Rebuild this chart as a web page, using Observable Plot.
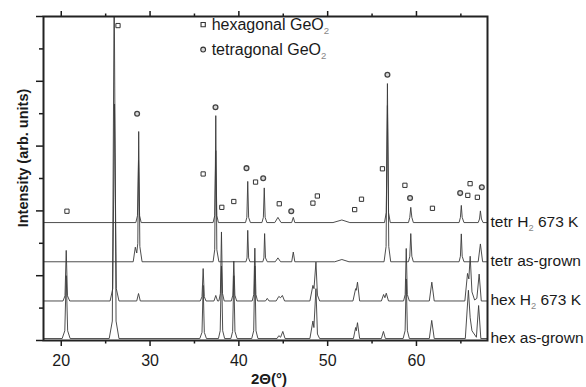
<!DOCTYPE html>
<html><head><meta charset="utf-8">
<script src="https://cdn.jsdelivr.net/npm/d3@7"></script>
<script src="https://cdn.jsdelivr.net/npm/@observablehq/plot@0.6"></script>
<style>
body{margin:0;background:#fff;}
#chart{width:586px;height:387px;overflow:hidden;}
</style>
</head><body><div id="chart"></div>
<script>
// ---- data: [2theta (deg), intensity (arb., stacked offset)] ----
const hexAsGrown = [
  [18,0.06],
  [20.1,0.06],[20.4,0.3],[20.56,2.0],[20.72,0.3],[21.0,0.06],
  [25.4,0.06],[25.75,0.6],[25.96,11],[26.17,0.6],[26.5,0.06],
  [35.6,0.06],[35.85,0.25],[35.98,1.7],[36.11,0.25],[36.35,0.06],
  [37.7,0.06],[37.9,0.3],[38.04,2.3],[38.18,0.3],[38.4,0.06],
  [39.1,0.06],[39.3,0.28],[39.43,2.0],[39.56,0.28],[39.8,0.06],
  [41.45,0.06],[41.67,0.3],[41.8,2.3],[41.93,0.3],[42.15,0.06],
  [44.3,0.06],[44.5,0.15],[44.7,0.1],[44.95,0.28],[45.2,0.06],
  [48.0,0.06],[48.34,0.6],[48.45,0.4],[48.68,1.6],[48.85,0.2],[49.1,0.06],
  [52.9,0.06],[53.15,0.4],[53.22,0.3],[53.36,0.55],[53.6,0.06],
  [56.05,0.06],[56.28,0.28],[56.5,0.06],
  [58.5,0.06],[58.72,0.3],[58.85,1.9],[58.98,0.3],[59.2,0.06],
  [61.45,0.06],[61.72,0.62],[62.0,0.06],
  [65.5,0.06],[65.85,1.55],[66.05,0.7],[66.25,0.3],[66.75,0.1],[67.0,1.08],[67.25,0.06],
  [68,0.06]
];
const hexH2 = [
  [18,1.22],
  [20.2,1.22],[20.42,1.38],[20.56,2.78],[20.7,1.38],[20.95,1.22],
  [25.5,1.22],[25.8,1.6],[26.0,7.3],[26.2,1.6],[26.5,1.22],
  [28.5,1.22],[28.7,1.45],[28.9,1.22],
  [35.65,1.22],[35.85,1.35],[35.98,2.22],[36.11,1.35],[36.3,1.22],
  [37.2,1.22],[37.4,1.39],[37.6,1.22],
  [37.75,1.22],[37.92,1.45],[38.04,3.35],[38.16,1.45],[38.35,1.22],
  [39.15,1.22],[39.32,1.4],[39.43,2.45],[39.55,1.4],[39.75,1.22],
  [41.5,1.22],[41.68,1.42],[41.8,2.85],[41.92,1.42],[42.1,1.22],
  [43.0,1.22],[43.2,1.3],[43.4,1.22],
  [44.2,1.22],[44.5,1.36],[44.7,1.32],[44.9,1.39],[45.15,1.22],
  [48.0,1.22],[48.34,1.7],[48.46,1.6],[48.68,2.42],[48.85,1.4],[49.1,1.22],
  [52.85,1.22],[53.15,1.6],[53.22,1.55],[53.36,1.8],[53.6,1.22],
  [56.05,1.22],[56.3,1.42],[56.45,1.32],[56.6,1.46],[56.85,1.22],
  [58.55,1.22],[58.73,1.42],[58.85,2.84],[58.97,1.42],[59.2,1.22],
  [61.45,1.22],[61.73,1.8],[62.0,1.22],
  [65.45,1.22],[65.75,2.07],[65.9,1.9],[66.05,2.6],[66.25,1.5],[66.55,1.25],
  [66.8,1.3],[67.06,2.05],[67.3,1.22],
  [68,1.22]
];
const tetrAsGrown = [
  [18,2.43],
  [28.1,2.43],[28.34,2.88],[28.5,2.7],[28.62,3.0],[28.72,6.45],[28.85,2.9],[29.1,2.43],
  [37.1,2.43],[37.28,2.8],[37.4,6.94],[37.52,2.8],[37.75,2.43],
  [40.8,2.43],[40.92,2.55],[41.0,3.4],[41.1,2.55],[41.25,2.43],
  [42.7,2.43],[42.82,2.55],[42.9,3.3],[43.0,2.55],[43.2,2.43],
  [44.1,2.43],[44.4,2.55],[44.7,2.43],
  [45.95,2.43],[46.13,2.73],[46.3,2.43],
  [50.8,2.43],[51.6,2.5],[52.4,2.43],
  [56.35,2.43],[56.58,2.9],[56.73,7.93],[56.88,2.9],[57.1,2.43],
  [59.1,2.43],[59.25,2.6],[59.36,3.3],[59.48,2.6],[59.65,2.43],
  [64.8,2.43],[64.95,2.6],[65.05,3.29],[65.15,2.6],[65.35,2.43],
  [66.95,2.43],[67.2,2.98],[67.45,2.43],
  [68,2.43]
];
const tetrH2 = [
  [18,3.64],
  [28.4,3.64],[28.58,3.85],[28.7,5.56],[28.82,3.85],[29.0,3.64],
  [37.1,3.64],[37.28,3.85],[37.4,5.86],[37.52,3.85],[37.7,3.64],
  [40.75,3.64],[40.9,3.8],[41.0,4.91],[41.1,3.8],[41.3,3.64],
  [42.6,3.64],[42.76,3.8],[42.86,4.71],[42.96,3.8],[43.15,3.64],
  [44.05,3.64],[44.4,3.8],[44.75,3.64],
  [45.95,3.64],[46.13,3.8],[46.3,3.64],
  [50.6,3.64],[51.6,3.72],[52.5,3.64],
  [56.4,3.64],[56.6,3.95],[56.73,7.25],[56.86,3.95],[57.05,3.64],
  [59.1,3.64],[59.25,3.8],[59.36,4.11],[59.48,3.8],[59.65,3.64],
  [64.8,3.64],[64.95,3.8],[65.05,4.17],[65.15,3.8],[65.35,3.64],
  [66.95,3.64],[67.1,3.75],[67.2,4.0],[67.32,3.75],[67.5,3.64],
  [68,3.64]
];
const traceNames = ["hex as-grown", "hex H2 673 K", "tetr as-grown", "tetr H2 673 K"];
const traceLabelParts = [["hex as-grown"], ["hex H", "2", " 673 K"], ["tetr as-grown"], ["tetr H", "2", " 673 K"]];
const traceBaselines = [0.06, 1.22, 2.43, 3.64];

// reflection markers
const hexMarkX = [20.64,26.39,35.98,38.08,39.43,41.88,44.55,48.34,48.84,53.04,53.81,56.17,58.70,61.80,65.78,66.04,66.86];
const hexMarkY = [3.99,9.72,5.14,4.11,4.29,4.89,4.22,4.24,4.46,4.04,4.36,5.30,4.79,4.08,4.48,4.84,4.42];
const tetMarkX = [28.54,37.37,40.86,42.74,45.90,56.73,59.28,64.92,67.36];
const tetMarkY = [7.0,7.2,5.32,5.01,3.99,8.2,4.4,4.55,4.73];

// axis ticks
const xMajor = [20,30,40,50,60];
const xMinor = [25,35,45,55,65];
const yMajor = [0,2,4,6,8,10];
const yMinor = [1,3,5,7,9];

const legendItems = [
  {symbol: "square", text: "hexagonal GeO", sub: "2"},
  {symbol: "circle", text: "tetragonal GeO", sub: "2"}
];

// ---- build tables ----
const series = [hexAsGrown, hexH2, tetrAsGrown, tetrH2];
const rows = series.flatMap((pts, i) => pts.map(([x, y]) => ({trace: traceNames[i], x, y})));
const hexMarks = hexMarkX.map((x, i) => ({x, y: hexMarkY[i]}));
const tetMarks = tetMarkX.map((x, i) => ({x, y: tetMarkY[i]}));
const legendRows = legendItems.map((d, i) => ({...d, x: 35.98, y: [9.75, 8.98][i]}));

const FONT = "'Liberation Sans', Arial, sans-serif";
const blank = () => "";

const plot = Plot.plot({
  width: 586, height: 387,
  marginLeft: 43, marginRight: 99, marginTop: 16, marginBottom: 47,
  x: {domain: [18, 68]},
  y: {domain: [0, 10]},
  style: {fontFamily: FONT, fontSize: "16px", color: "#1a1a1a", background: "white", overflow: "visible"},
  marks: [
    Plot.line(rows, {x: "x", y: "y", z: "trace", stroke: "#3a3a3a", strokeWidth: 0.9, clip: true}),
    Plot.dot(hexMarks, {x: "x", y: "y", symbol: "square", r: 2.4, stroke: "#333", fill: "white", strokeWidth: 1}),
    Plot.dot(tetMarks, {x: "x", y: "y", symbol: "circle", r: 2.4, stroke: "#444", fill: "#d8d8d8", strokeWidth: 1.3}),
    Plot.dot(legendRows, {x: "x", y: "y", symbol: "symbol", r: 2.4, stroke: "#333", fill: d => d.symbol === "circle" ? "#d8d8d8" : "white", strokeWidth: 1.1}),
    Plot.axisX(xMajor, {anchor: "bottom", tickSize: 6, tickPadding: 8, strokeWidth: 1.5, label: null, fontSize: 16}),
    Plot.axisX(xMinor, {anchor: "bottom", tickSize: 3.5, tickFormat: blank, strokeWidth: 1.5, label: null}),
    Plot.axisX(xMajor, {anchor: "top", tickSize: 6, tickFormat: blank, strokeWidth: 1.5, label: null}),
    Plot.axisX(xMinor, {anchor: "top", tickSize: 3.5, tickFormat: blank, strokeWidth: 1.5, label: null}),
    Plot.axisY(yMajor, {anchor: "left", tickSize: 7, tickFormat: blank, strokeWidth: 1.5, label: null}),
    Plot.axisY(yMinor, {anchor: "left", tickSize: 4, tickFormat: blank, strokeWidth: 1.5, label: null}),
    Plot.frame({stroke: "#222", strokeWidth: 2})
  ]
});

document.getElementById("chart").appendChild(plot);

// ---- annotations via the plot's own scales ----
const sx = plot.scale("x"), sy = plot.scale("y");
const svg = d3.select(plot);
const g = svg.append("g").attr("font-family", FONT).attr("fill", "#1a1a1a").attr("text-anchor", "start");

function subText(sel, parts, size) {
  parts.forEach((p, k) => {
    if (k % 2 === 1) {
      sel.append("tspan").attr("font-size", size * 0.6).attr("fill", "#888").attr("dy", 4).text(p);
    } else {
      const t = sel.append("tspan").text(p);
      if (k > 0) t.attr("dy", -4);
    }
  });
}

// legend text
legendRows.forEach(d => {
  const t = g.append("text")
    .attr("x", sx.apply(d.x) + 9)
    .attr("y", sy.apply(d.y) + 6)
    .attr("text-anchor", "start")
    .attr("font-size", 16);
  subText(t, [d.text, d.sub], 16);
});

// trace labels on the right
traceLabelParts.forEach((parts, i) => {
  const t = g.append("text")
    .attr("x", sx.apply(68) + 3.5)
    .attr("y", sy.apply(traceBaselines[i]) + 5)
    .attr("text-anchor", "start")
    .attr("font-size", 15.5);
  subText(t, parts, 15.5);
});

// axis titles
g.append("text")
  .attr("x", (sx.apply(18) + sx.apply(68)) / 2 + 4)
  .attr("y", 384)
  .attr("text-anchor", "middle")
  .attr("font-weight", "bold")
  .attr("font-size", 15)
  .text("2Θ(°)");
g.append("text")
  .attr("transform", "translate(23,158) rotate(-90)")
  .attr("text-anchor", "middle")
  .attr("dominant-baseline", "central")
  .attr("font-weight", "bold")
  .attr("font-size", 14.5)
  .text("Intensity (arb. units)");
</script>
</body></html>
